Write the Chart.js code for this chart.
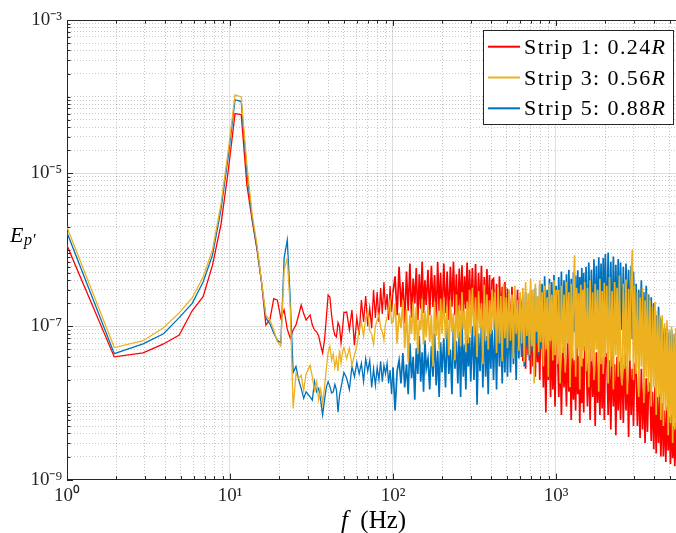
<!DOCTYPE html>
<html><head><meta charset="utf-8">
<script src="https://cdn.jsdelivr.net/npm/chart.js@4.4.1/dist/chart.umd.min.js"></script>
<style>html,body{margin:0;padding:0;background:#fff;}canvas{display:block;}</style>
</head><body>
<canvas id="c" width="676" height="533"></canvas>
<script>
// Frequencies (Hz)
const freqHz = [
0.98,1.95,2.93,3.91,4.88,5.86,6.84,7.81,8.79,9.77,10.74,11.72,12.7,13.67,14.65,15.63,16.6,17.58,18.55,19.53,20.51,21.48,22.46,23.44,24.41,25.39,26.37,27.34,28.32,29.3,
31,32,33,34,35,36,37,38,39,40,41,42,43,44,45,46,47,48,49,50,
52,54,56,58,60,62,64,66,68,70,72,74,76,78,80,82,84,86,88,90,92,94,96,98,100,
103,106,109,112,115,118,121,124,127,130,133,136,139,142,145,148,151,154,157,160,
164,168,172,176,180,184,188,192,196,200,
205,210,215,220,225,230,235,240,245,250,255,260,265,270,275,280,285,290,295,300,
307,314,321,328,335,342,349,356,363,370,377,384,391,398,405,
414,423,432,441,450,459,468,477,486,495,504,
515,526,537,548,559,570,581,592,603,
615,627,639,651,663,675,687,699,711,723,735,747,759,771,783,795,807,
822,837,852,867,882,897,912,927,942,957,972,987,1002,
1020,1040,1060,1080,1100,1120,1140,1160,1180,1200,1220,1240,1260,1280,1300,1320,1340,1360,1380,1400,1420,1440,1460,1480,1500,
1530,1560,1590,1620,1650,1680,1710,1740,1770,1800,1830,1860,1890,1920,1950,1980,2010,
2050,2090,2130,2170,2210,2250,2290,2330,2370,2410,2450,2490,
2540,2590,2640,2690,2740,2790,2840,2890,2940,2990,3040,
3100,3160,3220,3280,3340,3400,3460,3520,3580,3640,3700,
3770,3840,3910,3980,4050,4120,4190,4260,4330,4400,
4480,4560,4640,4720,4800,4880,4960,5040,5120,5200,5280,5360,5440,5520
];
// E_p' values, in units of 1e-8
const UNIT = 1e-8;
const strip1 = [
126,4.0,4.5,5.9,7.7,16,24.5,63,210,1100,6000,5800,700,245,100,37,10.4,12.3,23,22,12.8,16.4,9.2,7.0,9.0,10.4,14,19,14.7,12.1,
14.1,10.4,9.0,8.5,7.5,5.7,4.5,6.6,12.9,25.7,24.2,14.1,9.5,7.7,7.3,11.2,9.9,6.1,9.0,15.2,
15.4,9.0,16.4,5.7,12.9,7.7,22.1,11.4,24.9,10.1,17.4,9.5,29.9,12.9,28.1,11.4,31.7,14.5,38.0,16.4,26.5,12.1,33.7,15.4,28.1,
45,14,60,18,38,11,52,16,66,13,42,20,58,12,48,17,70,15,40,19,
55,14,62,18,47,12,69,16,50,13,
66,15,52,12,60,18,70,14,48,11,57,16,63,13,45,17,68,12,55,15,
58,13,65,11,50,15,62,10,44,14,56,12,47,9,40,
42,10,36,8.5,45,11,33,9,38,7.8,30,
28,8,33,7,25,9,30,6.8,24,
18,3.5,15,2.8,20,4.2,12,2.4,16,3.0,11,2.2,14,3.4,9.5,2.0,12,
9,1.6,7.5,0.75,8.5,2.0,6.6,1.2,10,1.5,7,0.9,8,
6.0,1.2,4.8,0.7,5.5,1.6,3.9,0.9,6.6,1.4,4.4,0.6,5.2,1.1,3.6,0.8,5.8,1.3,4.1,0.55,4.9,1.0,3.8,0.75,5.3,
5.0,0.9,4.2,0.6,5.6,1.2,3.7,0.5,4.6,1.0,3.4,0.7,5.1,0.85,3.9,0.6,4.3,
4.4,0.7,3.6,0.45,4.8,0.9,3.2,0.38,4.0,0.8,3.5,0.6,
3.8,0.55,4.5,0.8,3.0,0.36,3.6,0.7,2.8,0.5,3.3,
2.6,0.5,2.2,0.35,2.8,0.45,1.9,0.3,2.1,0.42,1.7,
1.8,0.32,1.4,0.25,1.6,0.22,1.2,0.3,1.3,0.2,
1.0,0.2,0.8,0.17,0.9,0.24,0.65,0.16,0.7,0.19,0.5,0.15,0.55,0.16
];
const strip3 = [
220,5.3,6.5,9.6,15,23.5,44,100,385,2000,10500,9900,1270,293,116,38,14,12.1,9.0,6.3,5.5,54,78,17,0.85,2.4,2.1,2.3,1.45,2.4,
3.1,2.2,1.48,1.9,1.1,1.5,1.0,1.6,2.8,4.6,5.5,3.6,4.4,2.9,3.8,2.6,4.9,3.3,4.6,5.3,
3.8,5.2,3.1,4.2,5.5,9.0,11.4,7.5,12.9,15.4,8.8,7.9,5.9,10.1,12.1,14.5,9.6,8.5,6.6,10.8,12.9,17.4,22.1,11.0,11.4,
20,6.0,15,9.5,22,5.2,17,3.4,14,8,21,6.5,18,4.4,12,9,23,5.8,16,7.2,
19,6.2,14,3.0,21,7.5,16,5.0,23,8,
24,6.8,18,4.2,22,8.5,15,3.6,26,7.0,19,5.5,28,9.2,16,4.6,21,6.0,30,8.0,
32,7.5,24,4.0,29,9.5,20,3.2,35,6.5,26,5.0,22,8.0,30,
9.0,28,4.5,33,6.0,25,3.5,36,7.0,24,5.2,
30,6.5,26,3.8,34,8.0,22,4.8,28,
6.0,32,3.4,38,7.5,27,4.2,42,5.5,30,1.8,36,8.5,25,4.6,40,6.2,
28,3.0,34,5.0,24,2.2,36,6.5,26,3.6,40,4.2,30,
3.2,30,1.8,34,4.5,26,2.5,38,6.0,28,1.6,36,3.8,24,85,2.2,32,5.2,27,1.5,35,3.0,30,4.8,38,
2.6,32,1.6,40,3.5,28,2.0,36,5.0,30,1.4,42,3.2,29,2.4,37,4.0,
34,1.8,44,3.0,29,1.5,38,4.2,32,2.2,46,3.4,
1.7,36,2.8,41,1.3,31,3.6,38,100,2.0,34,
2.4,28,1.2,24,3.0,32,1.0,22,2.2,27,1.4,
22,0.9,18,1.6,21,0.7,16,1.2,14,0.6,
14,0.5,11,0.8,12,0.38,9,0.55,10,0.3,8,0.45,9.5,0.32
];
const strip5 = [
187,4.4,5.9,8.0,13,20,38,85,330,1700,9100,8600,1040,260,106,37,12.9,10.8,8.2,6.6,6.1,78,134,22,2.5,3.0,2.0,1.55,1.15,1.4,
1.2,1.09,1.9,1.4,1.55,1.09,0.70,1.09,1.6,1.9,1.65,1.35,1.4,1.75,1.48,0.76,1.27,1.6,2.0,2.5,
2.1,1.5,3.0,2.2,3.4,2.4,3.3,1.9,3.8,2.6,3.6,1.6,2.8,1.7,2.9,2.0,3.5,1.9,3.1,2.4,3.3,1.8,2.7,1.3,2.9,
0.8,2.6,3.6,1.8,4.5,1.6,3.2,1.3,6.0,2.1,4.0,1.1,5.2,2.4,7.5,1.9,4.6,1.4,6.6,2.8,
3.8,1.5,5.5,2.2,8.0,1.7,4.8,1.2,6.2,2.5,
7.0,1.6,9.5,2.4,5.0,1.3,11,2.8,6.4,1.8,8.5,1.2,12,2.2,5.8,1.5,9.0,3.0,7.2,1.9,
10,2.0,13,0.95,8.0,2.6,11,1.6,14,2.2,7.5,1.3,12,2.8,9.0,
2.0,12,1.5,15,3.0,10,1.8,13,2.5,16,2.2,
14,2.5,18,3.2,12,2.0,20,3.8,16,
4.0,22,3.0,28,5.5,18,3.6,30,4.8,25,3.2,32,6.0,24,4.2,35,5.0,
36,6.0,45,8.0,30,5.5,42,7.0,38,5.0,47,9.0,34,
6.5,44,8.0,52,5.8,40,9.0,48,6.2,55,7.5,42,5.5,50,8.5,46,6.0,54,9.5,44,7.0,58,6.4,50,8.2,
60,7.0,68,9.0,55,6.5,75,8.5,62,7.8,80,10,66,6.8,78,9.5,88,
8.0,92,9.5,70,7.2,82,10,64,8.5,76,7.0,68,
9.0,60,7.5,66,10,55,8.0,62,6.8,52,9.2,
36,7.0,30,8.5,40,6.0,28,7.5,34,5.5,26,
6.5,24,5.0,20,7.0,14,4.5,18,5.8,12,
11,3.8,9.5,4.5,10,3.2,8.5,4.0,9.0,3.5,7.8,4.2,8.0,3.6
];
const seriesLabels = ['Strip 1: 0.24R', 'Strip 3: 0.56R', 'Strip 5: 0.88R'];
const seriesColors = ['#FF0000', '#EDB120', '#0072BD'];
const xTickValues = [1, 10, 100, 1000];
const xTickLabels = ['10\u2070', '10\u00B9', '10\u00B2', '10\u00B3'];
const yTickValues = [1e-9, 1e-7, 1e-5, 1e-3];
const yTickLabels = ['10\u207B\u2079', '10\u207B\u2077', '10\u207B\u2075', '10\u207B\u00B3'];
const X_MIN = 1, X_MAX = 5450, Y_MIN = 1e-9, Y_MAX = 1e-3;

const SERIF = '"Liberation Serif", "Times New Roman", serif';
const AXIS_COLOR = '#262626';

function isGridValue(v) {
  if (!(v > 0)) return false;
  const e = Math.floor(Math.log10(v) + 1e-9);
  const m = v / Math.pow(10, e);
  return Math.abs(m - Math.round(m)) < 1e-6;
}
function labelIndex(v, vals) {
  return vals.findIndex(t => Math.abs(Math.log10(v) - Math.log10(t)) < 1e-6);
}
function gridColor(vals) {
  return c => {
    if (!c.tick) return 'rgba(0,0,0,0)';
    const v = c.tick.value;
    if (!isGridValue(v)) return 'rgba(0,0,0,0)';
    return labelIndex(v, vals) >= 0 ? 'rgba(38,38,38,0.15)' : 'rgba(38,38,38,0.25)';
  };
}
function gridDash(vals) {
  return c => (c.tick && labelIndex(c.tick.value, vals) < 0) ? [1, 2] : [];
}

const mk = (arr) => freqHz.map((f, i) => ({x: f, y: arr[i] * UNIT}));
const datasets = [
  {label: seriesLabels[0], data: mk(strip1), borderColor: seriesColors[0], order: 3},
  {label: seriesLabels[1], data: mk(strip3), borderColor: seriesColors[1], order: 1},
  {label: seriesLabels[2], data: mk(strip5), borderColor: seriesColors[2], order: 2}
].map(d => Object.assign(d, {
  borderWidth: 1.3, pointRadius: 0, fill: false, tension: 0,
  segment: {borderWidth: c => (freqHz[c.p0DataIndex] >= 100 ? 1.7 : 1.3)}
}));

const decorPlugin = {
  id: 'decor',
  afterDraw(chart) {
    const {ctx, chartArea: a, scales: {x, y}} = chart;
    ctx.save();
    ctx.strokeStyle = AXIS_COLOR;
    ctx.lineWidth = 1;
    const line = (x1, y1, x2, y2) => { ctx.beginPath(); ctx.moveTo(x1, y1); ctx.lineTo(x2, y2); ctx.stroke(); };
    // top spine
    line(a.left, Math.round(a.top) + 0.5, a.right, Math.round(a.top) + 0.5);
    // inward tick marks
    x.ticks.forEach(t => {
      if (!isGridValue(t.value)) return;
      const px = Math.round(x.getPixelForValue(t.value)) + 0.5;
      if (px < a.left - 1 || px > a.right) return;
      const L = labelIndex(t.value, xTickValues) >= 0 ? 6 : 3.5;
      line(px, a.bottom, px, a.bottom - L);
      line(px, a.top, px, a.top + L);
    });
    y.ticks.forEach(t => {
      if (!isGridValue(t.value)) return;
      const py = Math.round(y.getPixelForValue(t.value)) + 0.5;
      const L = labelIndex(t.value, yTickValues) >= 0 ? 6 : 3.5;
      line(a.left, py, a.left + L, py);
    });
    // axis titles
    ctx.fillStyle = '#000';
    ctx.textBaseline = 'alphabetic';
    const cy = (a.top + a.bottom) / 2;
    ctx.font = 'italic 22px ' + SERIF;
    ctx.fillText('E', a.left - 57, cy - 8);
    const ew = ctx.measureText('E').width;
    ctx.font = 'italic 16px ' + SERIF;
    ctx.fillText('p\u2032', a.left - 57 + ew + 0.5, cy - 5);
    const cx = (a.left + a.right) / 2 + 2;
    ctx.font = 'italic 25px ' + SERIF;
    const fw = ctx.measureText('f').width;
    ctx.font = '25px ' + SERIF;
    const hw = ctx.measureText('  (Hz)').width;
    const sx = cx - (fw + hw) / 2;
    ctx.font = 'italic 25px ' + SERIF;
    ctx.fillText('f', sx, a.bottom + 48.5);
    ctx.font = '25px ' + SERIF;
    ctx.fillText('  (Hz)', sx + fw, a.bottom + 48.5);
    // legend box
    const w = 190, h = 94;
    const x0 = Math.round(a.right - w - 3), y0 = Math.round(a.top + 10);
    ctx.fillStyle = '#fff';
    ctx.fillRect(x0, y0, w, h);
    ctx.strokeStyle = AXIS_COLOR;
    ctx.lineWidth = 1;
    ctx.strokeRect(x0 + 0.5, y0 + 0.5, w, h);
    chart.data.datasets.forEach((ds, i) => {
      const ry = y0 + 16.7 + i * 30.8;
      ctx.strokeStyle = ds.borderColor;
      ctx.lineWidth = 2;
      line(x0 + 5, ry, x0 + 37, ry);
      const main = ds.label.slice(0, -1), last = ds.label.slice(-1);
      ctx.fillStyle = '#000';
      ctx.font = '22px ' + SERIF;
      ctx.letterSpacing = '1.4px';
      ctx.fillText(main, x0 + 41, ry + 7);
      const mw = ctx.measureText(main).width;
      ctx.font = 'italic 22px ' + SERIF;
      ctx.fillText(last, x0 + 41 + mw, ry + 7);
      ctx.letterSpacing = '0px';
    });
    ctx.restore();
  }
};

new Chart(document.getElementById('c'), {
  type: 'line',
  data: {datasets},
  options: {
    responsive: false,
    animation: false,
    devicePixelRatio: 1,
    layout: {padding: {top: 20, left: 0, right: 0, bottom: 0}},
    plugins: {legend: {display: false}, tooltip: {enabled: false}},
    scales: {
      x: {
        type: 'logarithmic', min: X_MIN, max: X_MAX,
        afterFit(s) { s.height = 53.4; s.paddingLeft = 0; s.paddingRight = 0; },
        ticks: {
          autoSkip: false, maxRotation: 0, minRotation: 0, padding: 5,
          color: AXIS_COLOR, font: {family: SERIF, size: 19},
          callback: v => { const i = labelIndex(v, xTickValues); return i >= 0 ? xTickLabels[i] : ''; }
        },
        grid: {color: gridColor(xTickValues), lineWidth: 1, drawTicks: false},
        border: {color: AXIS_COLOR, width: 1, dash: gridDash(xTickValues)}
      },
      y: {
        type: 'logarithmic', min: Y_MIN, max: Y_MAX,
        afterFit(s) { s.width = 67; s.paddingTop = 0; s.paddingBottom = 0; },
        ticks: {
          autoSkip: false, padding: 5,
          color: AXIS_COLOR, font: {family: SERIF, size: 19},
          callback: v => { const i = labelIndex(v, yTickValues); return i >= 0 ? yTickLabels[i] : ''; }
        },
        grid: {color: gridColor(yTickValues), lineWidth: 1, drawTicks: false},
        border: {color: AXIS_COLOR, width: 1, dash: gridDash(yTickValues)}
      }
    }
  },
  plugins: [decorPlugin]
});
</script>
</body></html>
